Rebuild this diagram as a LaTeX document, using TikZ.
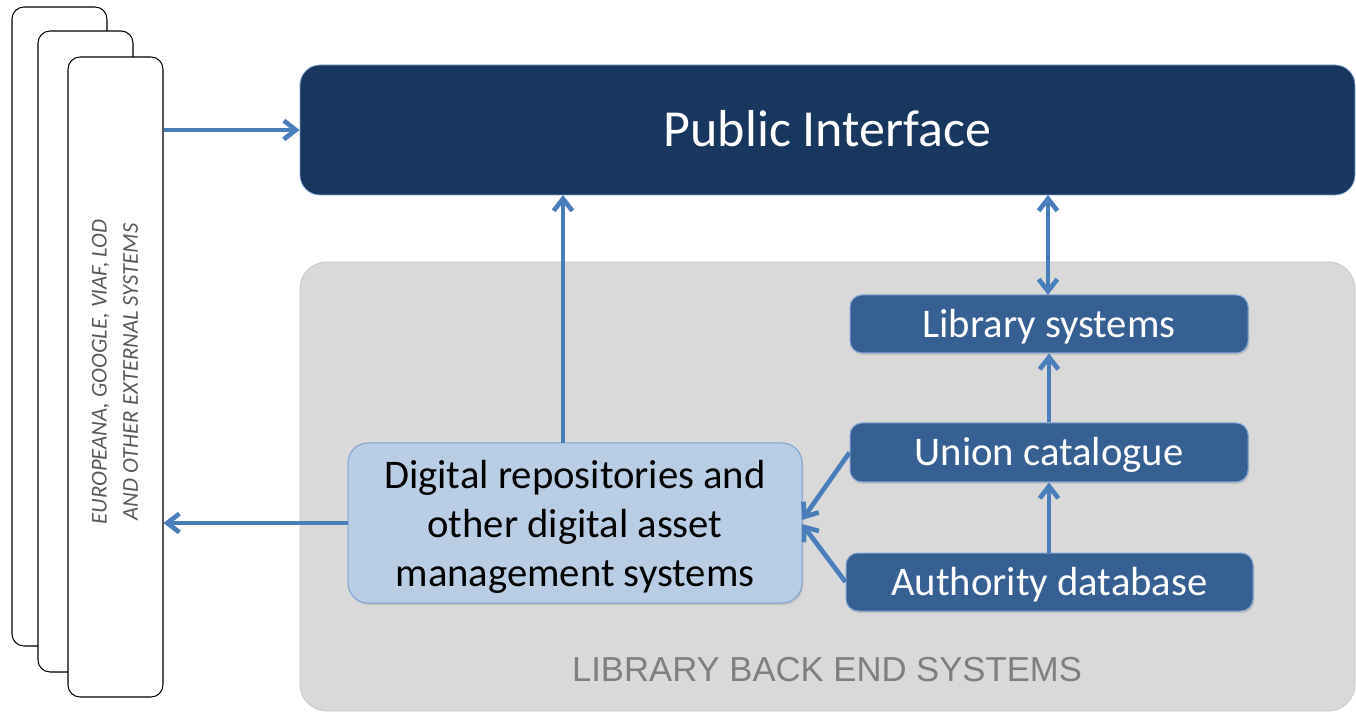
\documentclass[tikz,border=0pt]{standalone}
\usepackage{fontspec}
\setmainfont{Carlito}
\newfontfamily\arialfont{Liberation Sans}
\usetikzlibrary{arrows.meta,shadows}
\definecolor{navy}{RGB}{24,55,94}
\definecolor{midblue}{RGB}{54,96,146}
\definecolor{lightblue}{RGB}{185,205,229}
\definecolor{edgeblue}{RGB}{126,162,209}
\definecolor{arrowblue}{RGB}{74,126,187}
\definecolor{backgray}{RGB}{217,217,217}
\definecolor{backedge}{RGB}{200,200,200}
\definecolor{textgray}{RGB}{127,127,127}
\definecolor{exttext}{RGB}{89,89,89}
\tikzset{
  extbox/.style={draw=black, line width=0.8pt, fill=white, rounded corners=9pt,
    minimum width=71.25pt, inner sep=0pt},
  sysbox/.style={draw=edgeblue, line width=0.75pt, fill=midblue, rounded corners=9pt,
    text=white, font=\fontsize{30.5}{36}\selectfont, inner sep=0pt,
    text height=19.6pt, text depth=0pt,
    drop shadow={opacity=0.25, shadow xshift=1pt, shadow yshift=-1.5pt}},
  tip/.tip={Straight Barb[length=9pt, width=14pt, line width=3.5pt]},
  conn/.style={draw=arrowblue, line width=3.5pt, -tip},
  conn2/.style={draw=arrowblue, line width=3.5pt, tip-tip},
}
\begin{document}
\begin{tikzpicture}[x=0.75pt,y=-0.75pt]
\useasboundingbox (0,0) rectangle (1356,712);
% external stacked boxes
\node[extbox, minimum height=479.25pt] (ext1) at (59.5,326.5) {};
\node[extbox, minimum height=480.75pt] (ext2) at (85.5,351.5) {};
\node[extbox, minimum height=480pt] (ext3) at (115.5,377) {};
\node[rotate=90, text=exttext, align=center, font=\fontsize{17}{23.5}\selectfont\itshape] (exttxt) at (115,372)
  {EUROPEANA, GOOGLE, VIAF, LOD\\AND OTHER EXTERNAL SYSTEMS};
% back end area
\node[draw=backedge, line width=0.6pt, fill=backgray, rounded corners=20pt,
  minimum width=791.25pt, minimum height=336.75pt, inner sep=0pt] (back) at (827.5,486.5) {};
\node[text=textgray, font=\arialfont\fontsize{26}{30}\selectfont] (backlbl) at (827,670) {LIBRARY BACK END SYSTEMS};
% public interface
\node[draw=edgeblue, line width=0.6pt, fill=navy, rounded corners=15pt,
  minimum width=791.25pt, minimum height=97.5pt, inner sep=0pt, text=white,
  text height=25.1pt, text depth=0pt,
  font=\fontsize{39}{46}\selectfont] (pub) at (827.5,130) {Public Interface};
% library systems
\node[sysbox, minimum width=298.5pt, minimum height=43.5pt] (lib) at (1049,324) {Library systems};
\node[sysbox, minimum width=298.5pt, minimum height=44.25pt] (union) at (1049,452.5) {Union catalogue};
\node[sysbox, minimum width=305.25pt, minimum height=43.5pt] (auth) at (1049.5,582) {Authority database};
% digital repositories
\node[draw=edgeblue, line width=0.75pt, fill=lightblue, rounded corners=15pt,
  minimum width=340.5pt, minimum height=120pt, inner sep=0pt, align=center,
  text depth=0pt,
  font=\fontsize{30.5}{36.75}\selectfont,
  drop shadow={opacity=0.25, shadow xshift=1pt, shadow yshift=-1.5pt}] (dig) at (575,523)
  {Digital repositories and\\other digital asset\\management systems};
% connectors
\draw[conn] (ext3.east |- 0,130) -- (pub.west |- 0,130);
\draw[conn] (dig.west) -- (ext3.east |- dig.west);
\draw[conn] (563,443) -- (563,195);
\draw[conn2] (1048,195) -- (1048,295);
\draw[conn] (union.north -| 1049,0) -- (lib.south -| 1049,0);
\draw[conn] (auth.north -| 1049,0) -- (union.south -| 1049,0);
\draw[conn] (union.west) -- (802,520);
\draw[conn] (auth.west) -- (802,524);
\end{tikzpicture}
\end{document}
